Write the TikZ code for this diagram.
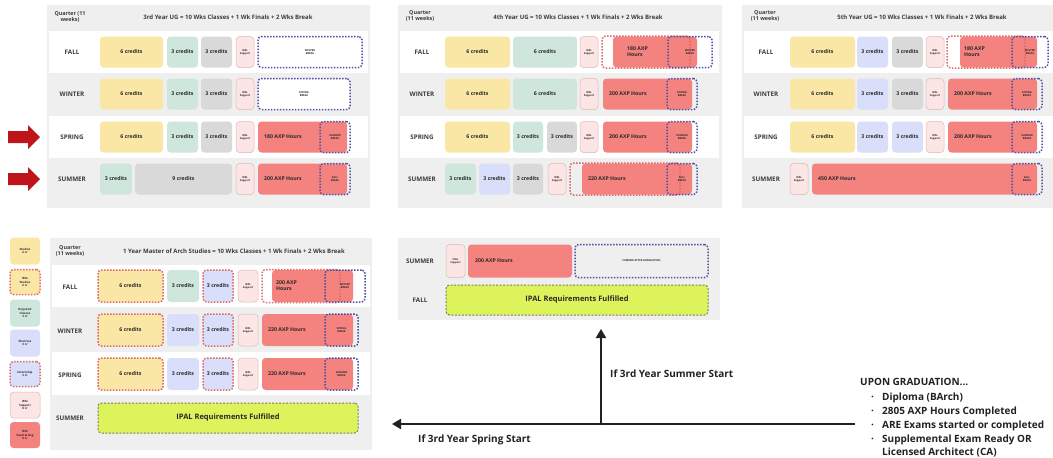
\documentclass[tikz,border=0pt]{standalone}
\usepackage{fontspec}
\setmainfont{Open Sans}
\usetikzlibrary{arrows.meta}
\definecolor{cPanel}{HTML}{EFEFEF}
\definecolor{cStud}{HTML}{FBE7A5}
\definecolor{cReq}{HTML}{CFE6DD}
\definecolor{cGry}{HTML}{D9D9D9}
\definecolor{cElec}{HTML}{D9DEFA}
\definecolor{cSup}{HTML}{FCE6E5}
\definecolor{cSupD}{HTML}{E2B4B2}
\definecolor{cAxp}{HTML}{F4827F}
\definecolor{cBlue}{HTML}{4F4FA6}
\definecolor{cRedDot}{HTML}{DE6A6A}
\definecolor{cLime}{HTML}{DDF35C}
\definecolor{cLimeD}{HTML}{7A7A6A}
\definecolor{cTxt}{HTML}{2A2A2A}
\definecolor{cLab}{HTML}{3C3C3C}
\definecolor{cDark}{HTML}{222222}
\definecolor{cArrow}{HTML}{C0141B}
\newcommand\fBox{\fontsize{5.2}{6}\selectfont\bfseries}
\newcommand\fTiny{\fontsize{2.6}{3.2}\selectfont\bfseries}
\newcommand\fLeg{\fontsize{2.9}{3.5}\selectfont\bfseries}
\newcommand\fLab{\fontsize{6.3}{7.5}\selectfont\bfseries}
\newcommand\fTitle{\fontsize{6}{7}\selectfont\bfseries}
\newcommand\fHead{\fontsize{5.4}{6.3}\selectfont\bfseries}
\newcommand\fLime{\fontsize{7.5}{9}\selectfont\bfseries}
\newcommand\fNote{\fontsize{10}{12}\selectfont\bfseries}
\tikzset{
  bx/.style={rounded corners=3.5pt, inner sep=0.5pt, align=center, font=\fBox, text=cTxt},
  stud/.style={bx, fill=cStud},
  req/.style={bx, fill=cReq},
  gry/.style={bx, fill=cGry},
  elec/.style={bx, fill=cElec},
  sup/.style={bx, fill=cSup, draw=cSupD, line width=0.5pt, font=\fTiny},
  axp/.style={bx, fill=cAxp},
  axpt/.style={font=\fBox, text=cTxt, align=left, inner sep=0pt},
  brk/.style={bx, draw=cBlue, line width=1.5pt, dash pattern=on 1.5pt off 1.5pt, font=\fTiny},
  ipd/.style={bx, draw=cRedDot, line width=1.5pt, dash pattern=on 1.5pt off 1.5pt},
  lime/.style={bx, fill=cLime, draw=cLimeD, line width=1pt, dash pattern=on 2pt off 1.5pt, font=\fLime},
  lab/.style={font=\fLab, text=cLab},
  ttl/.style={font=\fTitle, text=cLab},
  qhd/.style={font=\fHead, text=cLab, align=center, inner sep=0pt},
  bigarrow/.style={line width=2pt, draw=cDark, -{Triangle[length=9pt,width=10pt]}},
  note/.style={font=\fNote, text=cDark, inner sep=0pt},
}
% style, name, x1, x2, yc, h, text
\newcommand\qb[7]{\node[#1, minimum width={(#4-#3)*1pt}, minimum height={#6*1pt}] (#2) at ({(#3+#4)/2},#5) {#7};}
% name, x, y, text
\newcommand\qt[4]{\node[axpt, anchor=west] (#1) at (#2,#3) {#4};}
\begin{document}
\begin{tikzpicture}[x=1pt,y=-1pt]
\fill[white] (0,0) rectangle (1053,458);
\useasboundingbox (0,0) rectangle (1053,458);

% ---------- red arrows ----------
\fill[cArrow] (8,131) -- (28,131) -- (28,125) -- (40,137) -- (28,149) -- (28,143) -- (8,143) -- cycle;
\fill[cArrow] (8,173) -- (28,173) -- (28,167) -- (40,179) -- (28,191) -- (28,185) -- (8,185) -- cycle;

% ---------- Panel 1 ----------
\fill[cPanel] (47,5) rectangle (370,208);
\fill[white] (49,31) rectangle (368,73);
\fill[white] (49,116) rectangle (368,158);
\node[qhd] (p1q) at (70,17) {Quarter (11\\weeks)};
\node[ttl] (p1t) at (228,17) {3rd Year UG = 10 Wks Classes + 1 Wk Finals + 2 Wks Break};
\node[lab] (p1lf) at (72,52) {FALL};
\node[lab] (p1lw) at (72,94) {WINTER};
\node[lab] (p1ls) at (72,137) {SPRING};
\node[lab] (p1lu) at (72,179) {SUMMER};
\qb{stud}{p1f1}{100}{163}{52}{31}{6 credits}
\qb{req}{p1f2}{167}{198}{52}{31}{3 credits}
\qb{gry}{p1f3}{201}{232}{52}{31}{3 credits}
\qb{sup}{p1f4}{236}{254}{52}{31}{IPAL\\Support}
\qb{brk,fill=white}{p1f5}{258}{362}{52}{31}{WINTER\\BREAK}
\qb{stud}{p1w1}{100}{163}{94}{31}{6 credits}
\qb{req}{p1w2}{167}{198}{94}{31}{3 credits}
\qb{gry}{p1w3}{201}{232}{94}{31}{3 credits}
\qb{sup}{p1w4}{236}{254}{94}{31}{IPAL\\Support}
\qb{brk,fill=white}{p1w5}{258}{350}{94}{31}{SPRING\\BREAK}
\qb{stud}{p1s1}{100}{163}{137}{31}{6 credits}
\qb{req}{p1s2}{167}{198}{137}{31}{3 credits}
\qb{gry}{p1s3}{201}{232}{137}{31}{3 credits}
\qb{sup}{p1s4}{236}{254}{137}{31}{IPAL\\Support}
\qb{axp}{p1s5}{258}{347}{137}{31}{}
\qt{p1s5t}{264}{137}{180 AXP Hours}
\qb{brk}{p1s6}{320}{350}{137}{31}{SUMMER\\BREAK}
\qb{req}{p1u1}{100}{132}{179}{31}{3 credits}
\qb{gry}{p1u2}{135}{232}{179}{31}{9 credits}
\qb{sup}{p1u3}{236}{254}{179}{31}{IPAL\\Support}
\qb{axp}{p1u4}{258}{347}{179}{31}{}
\qt{p1u4t}{264}{179}{200 AXP Hours}
\qb{brk}{p1u5}{320}{350}{179}{31}{FALL\\BREAK}

% ---------- Panel 2 ----------
\fill[cPanel] (398,5) rectangle (722,208);
\fill[white] (400,31) rectangle (719,73);
\fill[white] (400,116) rectangle (719,158);
\node[qhd] (p2q) at (420,16) {Quarter\\(11 weeks)};
\node[ttl] (p2t) at (578,17) {4th Year UG = 10 Wks Classes + 1 Wk Finals + 2 Wks Break};
\node[lab] (p2lf) at (422,52) {FALL};
\node[lab] (p2lw) at (422,94) {WINTER};
\node[lab] (p2ls) at (422,137) {SPRING};
\node[lab] (p2lu) at (422,179) {SUMMER};
\qb{stud}{p2f1}{445}{510}{52}{31}{6 credits}
\qb{req}{p2f2}{513}{577}{52}{31}{6 credits}
\qb{sup}{p2f3}{580}{598}{52}{31}{IPAL\\Support}
\qb{axp}{p2f4}{613}{697}{52}{31}{}
\qt{p2f4t}{627}{52}{180 AXP\\Hours}
\qb{ipd}{p2f5}{602}{690}{52}{32}{}
\qb{brk}{p2f6}{668}{712}{52}{31}{WINTER\\BREAK}
\qb{stud}{p2w1}{445}{510}{94}{31}{6 credits}
\qb{req}{p2w2}{513}{577}{94}{31}{6 credits}
\qb{sup}{p2w3}{580}{598}{94}{31}{IPAL\\Support}
\qb{axp}{p2w4}{603}{692}{94}{31}{}
\qt{p2w4t}{609}{94}{200 AXP Hours}
\qb{brk}{p2w5}{667}{697}{94}{31}{SPRING\\BREAK}
\qb{stud}{p2s1}{445}{510}{137}{31}{6 credits}
\qb{req}{p2s2}{513}{543}{137}{31}{3 credits}
\qb{gry}{p2s3}{547}{577}{137}{31}{3 credits}
\qb{sup}{p2s4}{580}{598}{137}{31}{IPAL\\Support}
\qb{axp}{p2s5}{603}{692}{137}{31}{}
\qt{p2s5t}{609}{137}{200 AXP Hours}
\qb{brk}{p2s6}{667}{697}{137}{31}{SUMMER\\BREAK}
\qb{req}{p2u1}{445}{476}{179}{31}{3 credits}
\qb{elec}{p2u2}{479}{510}{179}{31}{3 credits}
\qb{gry}{p2u3}{513}{543}{179}{31}{3 credits}
\qb{sup}{p2u4}{548}{566}{179}{31}{IPAL\\Support}
\qb{axp}{p2u5}{582}{692}{179}{31}{}
\qt{p2u5t}{588}{179}{220 AXP Hours}
\qb{ipd}{p2u6}{570}{680}{179}{32}{}
\qb{brk}{p2u7}{667}{697}{179}{31}{FALL\\BREAK}

% ---------- Panel 3 ----------
\fill[cPanel] (742,5) rectangle (1053,208);
\fill[white] (744,31) rectangle (1053,73);
\fill[white] (744,116) rectangle (1053,158);
\node[qhd] (p3q) at (765,16) {Quarter\\(11 weeks)};
\node[ttl] (p3t) at (922,17) {5th Year UG = 10 Wks Classes + 1 Wk Finals + 2 Wks Break};
\node[lab] (p3lf) at (766,52) {FALL};
\node[lab] (p3lw) at (766,94) {WINTER};
\node[lab] (p3ls) at (766,137) {SPRING};
\node[lab] (p3lu) at (766,179) {SUMMER};
\qb{stud}{p3f1}{790}{855}{52}{31}{6 credits}
\qb{elec}{p3f2}{857}{888}{52}{31}{3 credits}
\qb{gry}{p3f3}{892}{923}{52}{31}{3 credits}
\qb{sup}{p3f4}{926}{944}{52}{31}{IPAL\\Support}
\qb{axp}{p3f5}{960}{1037}{52}{31}{}
\qt{p3f5t}{964}{52}{180 AXP\\Hours}
\qb{ipd}{p3f6}{947}{1025}{52}{32}{}
\qb{brk}{p3f7}{1012}{1048}{52}{31}{WINTER\\BREAK}
\qb{stud}{p3w1}{790}{855}{94}{31}{6 credits}
\qb{elec}{p3w2}{857}{888}{94}{31}{3 credits}
\qb{gry}{p3w3}{892}{923}{94}{31}{3 credits}
\qb{sup}{p3w4}{926}{944}{94}{31}{IPAL\\Support}
\qb{axp}{p3w5}{948}{1037}{94}{31}{}
\qt{p3w5t}{954}{94}{200 AXP Hours}
\qb{brk}{p3w6}{1012}{1042}{94}{31}{SPRING\\BREAK}
\qb{stud}{p3s1}{790}{855}{137}{31}{6 credits}
\qb{elec}{p3s2}{857}{888}{137}{31}{3 credits}
\qb{elec}{p3s3}{892}{923}{137}{31}{3 credits}
\qb{sup}{p3s4}{926}{944}{137}{31}{IPAL\\Support}
\qb{axp}{p3s5}{948}{1037}{137}{31}{}
\qt{p3s5t}{954}{137}{200 AXP Hours}
\qb{brk}{p3s6}{1012}{1042}{137}{31}{SUMMER\\BREAK}
\qb{sup}{p3u1}{790}{808}{179}{31}{IPAL\\Support}
\qb{axp}{p3u2}{812}{1037}{179}{31}{}
\qt{p3u2t}{818}{179}{450 AXP Hours}
\qb{brk}{p3u3}{1012}{1042}{179}{31}{FALL\\BREAK}

% ---------- Legend ----------
\qb{stud,font=\fLeg}{lg1}{10}{40}{251}{27}{Studios\\6 cr}
\qb{stud,ipd,font=\fLeg}{lg2}{10}{40}{282}{25}{IPAL\\Studios\\6 cr}
\qb{req,font=\fLeg}{lg3}{10}{40}{313}{27}{Required\\Classes\\3 cr}
\qb{elec,font=\fLeg}{lg4}{10}{40}{343}{27}{Electives\\3 cr}
\qb{elec,ipd,font=\fLeg}{lg5}{10}{40}{374}{25}{Internship\\3 cr}
\qb{sup,font=\fLeg}{lg6}{10}{40}{405}{26}{IPAL\\Support\\0 cr}
\qb{axp,font=\fLeg}{lg7}{10}{40}{435}{26}{IPAL\\Exam \& Reg\\0 cr}

% ---------- Panel 4 ----------
\fill[cPanel] (50,238) rectangle (372,450);
\fill[white] (52,265) rectangle (370,307);
\fill[white] (52,352) rectangle (370,395);
\node[qhd] (p4q) at (70,251) {Quarter\\(11 weeks)};
\node[ttl] (p4t) at (234,251) {1 Year Master of Arch Studies = 10 Wks Classes + 1 Wk Finals + 2 Wks Break};
\node[lab] (p4lf) at (70,287) {FALL};
\node[lab] (p4lw) at (70,331) {WINTER};
\node[lab] (p4ls) at (70,375) {SPRING};
\node[lab] (p4lu) at (70,418) {SUMMER};
\qb{stud,ipd}{p4f1}{98}{163}{286}{32}{6 credits}
\qb{req}{p4f2}{167}{199}{286}{32}{3 credits}
\qb{elec,ipd}{p4f3}{203}{233}{286}{32}{3 credits}
\qb{sup}{p4f4}{238}{258}{286}{32}{IPAL\\Support}
\qb{axp}{p4f5}{272}{353}{286}{32}{}
\qt{p4f5t}{276}{286}{200 AXP\\Hours}
\qb{ipd}{p4f6}{262}{340}{286}{33}{}
\qb{brk}{p4f7}{325}{365}{286}{32}{WINTER\\BREAK}
\qb{stud,ipd}{p4w1}{98}{163}{330}{32}{6 credits}
\qb{elec}{p4w2}{167}{199}{330}{32}{3 credits}
\qb{elec,ipd}{p4w3}{203}{233}{330}{32}{3 credits}
\qb{sup}{p4w4}{238}{258}{330}{32}{IPAL\\Support}
\qb{axp}{p4w5}{262}{353}{330}{32}{}
\qt{p4w5t}{268}{330}{220 AXP Hours}
\qb{brk}{p4w6}{325}{358}{330}{32}{SPRING\\BREAK}
\qb{stud,ipd}{p4s1}{98}{163}{374}{32}{6 credits}
\qb{elec}{p4s2}{167}{199}{374}{32}{3 credits}
\qb{elec,ipd}{p4s3}{203}{233}{374}{32}{3 credits}
\qb{sup}{p4s4}{238}{258}{374}{32}{IPAL\\Support}
\qb{axp}{p4s5}{262}{353}{374}{32}{}
\qt{p4s5t}{268}{374}{220 AXP Hours}
\qb{brk}{p4s6}{325}{358}{374}{32}{SUMMER\\BREAK}
\qb{lime}{p4u1}{98}{358}{418}{30}{IPAL Requirements Fulfilled}

% ---------- Panel 5 ----------
\fill[cPanel] (398,238) rectangle (720,320);
\node[lab] (p5lu) at (420,261) {SUMMER};
\node[lab] (p5lf) at (420,300) {FALL};
\qb{sup}{p5u1}{446}{465}{261}{33}{IPAL\\Support}
\qb{axp}{p5u2}{468}{572}{261}{33}{}
\qt{p5u2t}{475}{261}{200 AXP Hours}
\qb{brk}{p5u3}{575}{708}{261}{33}{SUMMER AFTER GRADUATION}
\qb{lime}{p5f1}{446}{708}{300}{30}{IPAL Requirements Fulfilled}

% ---------- Arrows ----------
\coordinate (hR) at (855,424);
\coordinate (hL) at (392,424);
\coordinate (vB) at (601,425);
\coordinate (vT) at (601,329);
\draw[bigarrow] (hR) -- (hL);
\draw[bigarrow] (vB) -- (vT);
\node[note, anchor=base west] (lsum) at (610,377) {If 3rd Year Summer Start};
\node[note, anchor=base west] (lspr) at (418,442) {If 3rd Year Spring Start};

% ---------- Graduation note ----------
\node[note, anchor=base west] (g0) at (860,385) {UPON GRADUATION...};
\node[note, anchor=base west] (g1) at (871,400) {\makebox[11pt][l]{·}Diploma (BArch)};
\node[note, anchor=base west] (g2) at (871,414) {\makebox[11pt][l]{·}2805 AXP Hours Completed};
\node[note, anchor=base west] (g3) at (871,428) {\makebox[11pt][l]{·}ARE Exams started or completed};
\node[note, anchor=base west] (g4) at (871,442) {\makebox[11pt][l]{·}Supplemental Exam Ready OR};
\node[note, anchor=base west] (g5) at (871,455.5) {\makebox[11pt][l]{\phantom{·}}Licensed Architect (CA)};
\end{tikzpicture}
\end{document}
